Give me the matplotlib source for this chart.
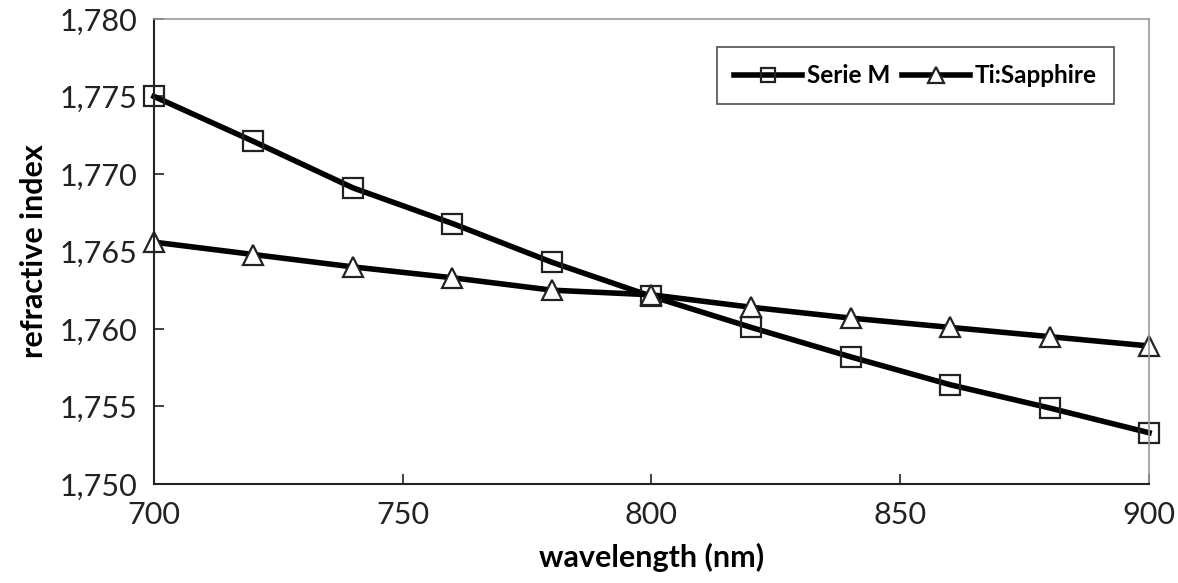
import matplotlib
matplotlib.use("Agg")
from matplotlib import pyplot as plt
from matplotlib.ticker import FuncFormatter, MultipleLocator

plt.rcParams['font.family'] = ['Lato', 'DejaVu Sans']

wavelength = [700, 720, 740, 760, 780, 800, 820, 840, 860, 880, 900]
serie_m = [1.7750, 1.7721, 1.7691, 1.7668, 1.7643, 1.7621, 1.7601, 1.7582, 1.7564, 1.7549, 1.7533]
ti_sapphire = [1.7656, 1.7648, 1.7640, 1.7633, 1.7625, 1.7622, 1.7614, 1.7607, 1.7601, 1.7595, 1.7589]

fig = plt.figure(figsize=(11.78, 5.83), dpi=100)
ax = fig.add_axes([0.1307, 0.170, 0.8447, 0.7975])

ax.plot(wavelength, serie_m, color='black', lw=4, marker='s', ms=14,
        mfc='none', mec='#222222', mew=1.6, label='Serie M', clip_on=False)
ax.plot(wavelength, ti_sapphire, color='black', lw=4, marker='^', ms=15,
        mfc='white', mec='#222222', mew=1.6, label='Ti:Sapphire', clip_on=False)

ax.set_xlim(700, 900)
ax.set_ylim(1.750, 1.780)
ax.xaxis.set_major_locator(MultipleLocator(50))
ax.yaxis.set_major_locator(MultipleLocator(0.005))
ax.yaxis.set_major_formatter(FuncFormatter(lambda v, p: ('%.3f' % v).replace('.', ',')))
ax.tick_params(direction='in', length=7, width=1.2, labelsize=22, colors='#222222', pad=12)
ax.tick_params(axis='x', pad=12)
ax.tick_params(top=False, right=False)

for s in ['left', 'bottom']:
    ax.spines[s].set_color('#222222')
    ax.spines[s].set_linewidth(1.5)
for s in ['top', 'right']:
    ax.spines[s].set_color('#999999')
    ax.spines[s].set_linewidth(1.2)

ax.set_xlabel('wavelength (nm)', fontsize=22, fontweight='bold', labelpad=10)
ax.set_ylabel('refractive index', fontsize=22, fontweight='bold', labelpad=8)

leg = ax.legend(loc='upper right', ncol=2, fontsize=17.5, frameon=True, fancybox=False,
                handlelength=2.8, handletextpad=0.2, columnspacing=0.5,
                borderpad=0.7, markerscale=0.75, bbox_to_anchor=(0.977, 0.965))
leg.get_frame().set_edgecolor('#222222')
leg.get_frame().set_linewidth(1.2)
for t in leg.get_texts():
    t.set_fontweight('bold')

fig.savefig('out.png', dpi=100)
